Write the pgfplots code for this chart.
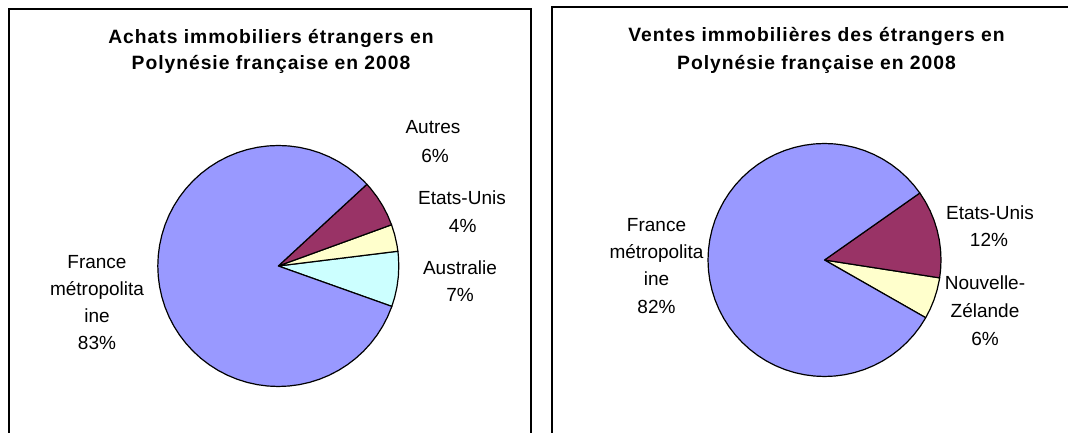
\documentclass[border=0pt]{standalone}
\usepackage{pgfplots}
\pgfplotsset{compat=1.18}
\usepgfplotslibrary{polar}
\usepackage{fontspec}
\setmainfont{Liberation Sans}
\newfontfamily\titlefont{Liberation Sans}[LetterSpace=5.0]
\definecolor{frc}{HTML}{9999FF}
\definecolor{mar}{HTML}{993366}
\definecolor{yel}{HTML}{FFFFCC}
\definecolor{cya}{HTML}{CCFFFF}
\pgfplotsset{pieax/.style={hide axis, clip=false, anchor=center,
  xmin=-1, xmax=1, ymin=-1, ymax=1},
  wedge/.style={draw=black, line width=1.2bp, line join=round, data cs=polar, mark=none}}
\begin{document}
\begin{tikzpicture}[x=1bp,y=1bp]
\useasboundingbox (0,0) rectangle (1068,433);
\fill[white] (0,0) rectangle (1068,433);
% panel borders
\draw[line width=2.2bp] (8.7,-5) -- (8.7,424) -- (531,424) -- (531,-5);
\draw[line width=2bp] (551.7,-5) -- (551.7,426.3) -- (1075,426.3);
% ---------- left pie ----------
\begin{axis}[pieax, x=120.5bp, y=120.5bp, at={(278.3bp,167bp)}]
% Australie 7.4 %
\addplot[wedge, fill=cya] coordinates {(0,0) (-19.6,1) (-15,1) (-10,1) (-5,1) (0,1) (5,1) (7.04,1)} -- cycle;
% Etats-Unis 3.6 %
\addplot[wedge, fill=yel] coordinates {(0,0) (7.04,1) (10,1) (15,1) (20.0,1)} -- cycle;
% Autres 6.3 %
\addplot[wedge, fill=mar] coordinates {(0,0) (20.0,1) (25,1) (30,1) (35,1) (40,1) (42.68,1)} -- cycle;
% France metropolitaine 82.7 %
\addplot[wedge, fill=frc] coordinates {(0,0) (42.68,1) (45,1) (50,1) (55,1) (60,1) (65,1) (70,1) (75,1) (80,1) (85,1) (90,1) (95,1) (100,1) (105,1) (110,1) (115,1) (120,1) (125,1) (130,1) (135,1) (140,1) (145,1) (150,1) (155,1) (160,1) (165,1) (170,1) (175,1) (180,1) (185,1) (190,1) (195,1) (200,1) (205,1) (210,1) (215,1) (220,1) (225,1) (230,1) (235,1) (240,1) (245,1) (250,1) (255,1) (260,1) (265,1) (270,1) (275,1) (280,1) (285,1) (290,1) (295,1) (300,1) (305,1) (310,1) (315,1) (320,1) (325,1) (330,1) (335,1) (340,1) (340.4,1)} -- cycle;
\end{axis}
% ---------- right pie ----------
\begin{axis}[pieax, x=116.5bp, y=116.5bp, at={(824.5bp,173bp)}]
% Nouvelle-Zelande 5.8 %
\addplot[wedge, fill=yel] coordinates {(0,0) (-29.7,1) (-25,1) (-20,1) (-15,1) (-10,1) (-8.82,1)} -- cycle;
% Etats-Unis 12.2 %
\addplot[wedge, fill=mar] coordinates {(0,0) (-8.82,1) (-5,1) (0,1) (5,1) (10,1) (15,1) (20,1) (25,1) (30,1) (35.1,1)} -- cycle;
% France metropolitaine 82.0 %
\addplot[wedge, fill=frc] coordinates {(0,0) (35.1,1) (40,1) (45,1) (50,1) (55,1) (60,1) (65,1) (70,1) (75,1) (80,1) (85,1) (90,1) (95,1) (100,1) (105,1) (110,1) (115,1) (120,1) (125,1) (130,1) (135,1) (140,1) (145,1) (150,1) (155,1) (160,1) (165,1) (170,1) (175,1) (180,1) (185,1) (190,1) (195,1) (200,1) (205,1) (210,1) (215,1) (220,1) (225,1) (230,1) (235,1) (240,1) (245,1) (250,1) (255,1) (260,1) (265,1) (270,1) (275,1) (280,1) (285,1) (290,1) (295,1) (300,1) (305,1) (310,1) (315,1) (320,1) (325,1) (330,1) (330.3,1)} -- cycle;
\end{axis}
% ---------- titles ----------
\begin{scope}[every node/.style={inner sep=0pt, anchor=base, font=\titlefont\bfseries\fontsize{19.3bp}{23bp}\selectfont}]
\node at (271,389) {Achats immobiliers étrangers en};
\node at (271,363) {Polynésie française en 2008};
\node at (816.5,391.3) {Ventes immobilières des étrangers en};
\node at (816.5,363) {Polynésie française en 2008};
\end{scope}
% ---------- labels ----------
\begin{scope}[every node/.style={inner sep=0pt, anchor=base, font=\fontsize{19bp}{23bp}\selectfont}]
\node at (433,299) {Autres};
\node at (435,270.7) {6\%};
\node at (462,228) {Etats-Unis};
\node at (462.7,200) {4\%};
\node at (460,158) {Australie};
\node at (460,131) {7\%};
\node at (97,164.3) {France};
\node at (97,137) {métropolita};
\node at (97,110) {ine};
\node at (97,83) {83\%};
\node at (656.5,201.5) {France};
\node at (656.5,174.5) {métropolita};
\node at (656.5,147) {ine};
\node at (656.5,119.5) {82\%};
\node at (990,213) {Etats-Unis};
\node at (989,186.5) {12\%};
\node at (985,143) {Nouvelle-};
\node at (985,115) {Zélande};
\node at (985,87) {6\%};
\end{scope}
\end{tikzpicture}
\end{document}
